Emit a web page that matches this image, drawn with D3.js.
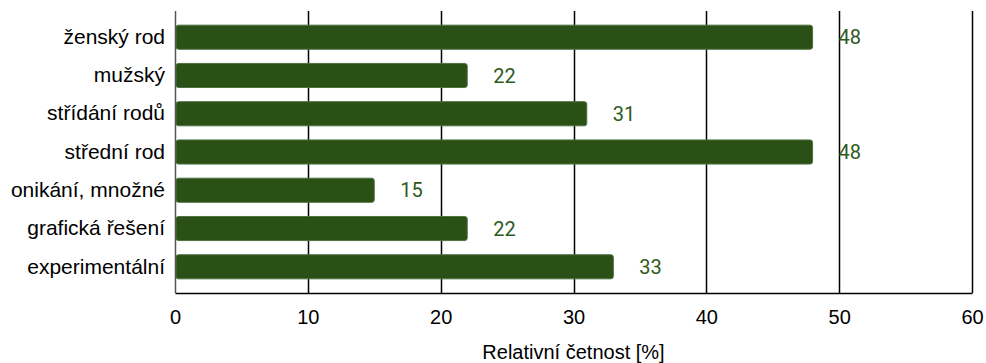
<!DOCTYPE html>
<html>
<head>
<meta charset="utf-8">
<script src="https://cdn.jsdelivr.net/npm/d3@7"></script>
<style>
  html, body { margin: 0; padding: 0; background: #ffffff; }
  svg { display: block; }
</style>
</head>
<body>
<svg id="chart" width="986" height="363"></svg>
<script>
// Categories (top to bottom) and their relative frequencies in percent
const categories = [
  "ženský rod",
  "mužský",
  "střídání rodů",
  "střední rod",
  "onikání, množné",
  "grafická řešení",
  "experimentální"
];
const values = [48, 22, 31, 48, 15, 22, 33];
const xTicks = [0, 10, 20, 30, 40, 50, 60];
const xTitle = "Relativní četnost [%]";

const data = categories.map((c, i) => ({ cat: c, val: values[i] }));

const W = 986, H = 363;
const margin = { top: 11, right: 14, bottom: 70, left: 175 };
const plotW = W - margin.left - margin.right;
const plotH = H - margin.top - margin.bottom;
const FONT = "'Liberation Sans', Arial, sans-serif";

const svg = d3.select("#chart");
const g = svg.append("g").attr("transform", `translate(${margin.left},${margin.top})`);

const x = d3.scaleLinear().domain([0, 60]).range([0, plotW]);
const y = d3.scaleBand().domain(categories).range([0, plotH]).paddingInner(0.37).paddingOuter(0.37);

// Vertical gridlines
g.append("g")
  .selectAll("line")
  .data(xTicks.filter(t => t > 0))
  .join("line")
  .attr("x1", d => Math.round(x(d)) + 0.5)
  .attr("x2", d => Math.round(x(d)) + 0.5)
  .attr("y1", 0)
  .attr("y2", plotH)
  .attr("stroke", "#000")
  .attr("stroke-width", 1.5);

// Bars
g.append("g")
  .selectAll("rect")
  .data(data)
  .join("rect")
  .attr("x", x(0) + 1)
  .attr("y", d => y(d.cat))
  .attr("width", d => x(d.val) - x(0) - 1)
  .attr("height", y.bandwidth())
  .attr("rx", 2.5)
  .attr("fill", "#2a5016")
  .attr("stroke", "#4d7140")
  .attr("stroke-width", 1);

// Value labels
g.append("g")
  .selectAll("text")
  .data(data)
  .join("text")
  .attr("x", d => x(d.val) + 26)
  .attr("y", d => y(d.cat) + y.bandwidth() / 2)
  .attr("dy", "0.36em")
  .attr("fill", "#2d5a1b")
  .attr("font-family", "Roboto, 'Liberation Sans', sans-serif")
  .attr("font-weight", 400)
  .attr("font-size", 20)
  .text(d => d.val);

// Left axis line
g.append("line")
  .attr("x1", 0.5).attr("x2", 0.5)
  .attr("y1", 0).attr("y2", plotH)
  .attr("stroke", "#555").attr("stroke-width", 1.5);

// Bottom axis
const xAxis = g.append("g")
  .attr("transform", `translate(0,${plotH})`)
  .call(d3.axisBottom(x).tickValues(xTicks).tickSize(0).tickPadding(17));
xAxis.select(".domain").attr("stroke", "#000").attr("stroke-width", 1.5);
xAxis.selectAll("text")
  .attr("font-family", FONT)
  .attr("font-size", 20)
  .attr("fill", "#000");

// Category labels
const yAxis = g.append("g")
  .call(d3.axisLeft(y).tickSize(0).tickPadding(10));
yAxis.select(".domain").remove();
yAxis.selectAll("text")
  .attr("font-family", FONT)
  .attr("font-size", 21)
  .attr("fill", "#000");

// Axis title
svg.append("text")
  .attr("x", margin.left + plotW / 2)
  .attr("y", 359)
  .attr("text-anchor", "middle")
  .attr("font-family", FONT)
  .attr("font-size", 20)
  .attr("fill", "#000")
  .text(xTitle);
</script>
</body>
</html>
